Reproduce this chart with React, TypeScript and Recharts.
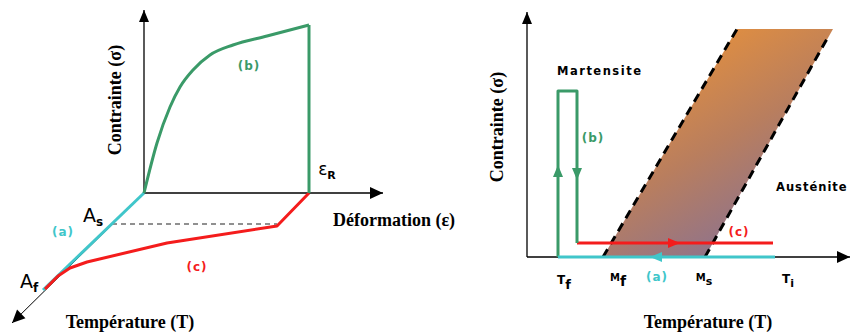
import React from 'react';
import { ComposedChart, Line, Area, Scatter, XAxis, YAxis } from 'recharts';

// Both panels use 1 unit = 4px on each axis so directions in data space equal screen directions.
const UNIT = 4;

// ---- left panel: stress / strain / temperature (oblique view), origin at the axes' corner
const leftStressAxis = [{ x: 0, y: 0 }, { x: 0, y: 45.75 }];
const leftStrainAxis = [{ x: 0, y: 0 }, { x: 59.75, y: 0 }];
const leftTempAxis = [{ x: 0, y: 0 }, { x: -33, y: -32.5 }];

const coolingA = [{ x: 0, y: 0 }, { x: -25.25, y: -24.25 }];
const loadingB = [
  { x: 0, y: 0 },
  { x: 3.25, y: 12.5 },
  { x: 6.5, y: 21.5 },
  { x: 9, y: 26.5 },
  { x: 12.25, y: 30.75 },
  { x: 16.5, y: 34.5 },
  { x: 22.25, y: 37 },
  { x: 30.75, y: 39.25 },
  { x: 41.25, y: 42 },
];
const fractureB = [{ x: 41.25, y: 42 }, { x: 41.25, y: 0 }];
const heatingC = [
  { x: 41.25, y: 0 },
  { x: 33.25, y: -8.25 },
  { x: 5.75, y: -12.5 },
  { x: -14.25, y: -17.25 },
  { x: -18.5, y: -18.75 },
  { x: -21.5, y: -20.75 },
  { x: -24.75, y: -24 },
];
const asLevel = [{ x: -8, y: -7.75 }, { x: 33.25, y: -7.75 }];

// ---- right panel: stress vs temperature
const rightStressAxis = [{ x: 0, y: 0 }, { x: 0, y: 61.25 }];
const rightTempAxis = [{ x: 0, y: 0 }, { x: 80.75, y: 0 }];

const bandLeftEdge = [{ x: 19, y: 0 }, { x: 52.5, y: 57 }];
const bandRightEdge = [{ x: 44.5, y: 0 }, { x: 75.25, y: 55 }];
const bandFill = [
  { x: 19, band: [0, 0] },
  { x: 44.5, band: [0, 43.4] },
  { x: 52.5, band: [14.25, 57] },
  { x: 76.5, band: [57, 57] },
];

const pathA = [{ x: 7.75, y: 0 }, { x: 62, y: 0 }];
const pathB = [
  { x: 7.75, y: 0 },
  { x: 7.75, y: 41.5 },
  { x: 12.5, y: 41.5 },
  { x: 12.5, y: 3.5 },
];
const pathC = [{ x: 12.5, y: 3.5 }, { x: 61.5, y: 3.5 }];

// direction markers along the paths: angle in degrees, counter-clockwise from +x
const arrowsA = [{ x: 30.75, y: 0, angle: 180 }];
const arrowsB = [
  { x: 7.75, y: 23, angle: 90 },
  { x: 12.5, y: 19.25, angle: -90 },
];
const arrowsC = [{ x: 38.25, y: 3.5, angle: 0 }];

const GREEN = '#3a9a68';
const CYAN = '#40c6ca';
const RED = '#f41c1c';

// arrow tip at the end of an axis, pointing away from the previous point
function tipOf(axis: { x: number; y: number }[]) {
  const a = axis[axis.length - 2];
  const b = axis[axis.length - 1];
  return [{ x: b.x, y: b.y, angle: (Math.atan2(b.y - a.y, b.x - a.x) * 180) / Math.PI }];
}

function arrowShape(color: string, len: number, half: number) {
  return (props: any) => {
    const { cx, cy, payload } = props;
    if (cx == null || cy == null) return <g />;
    return (
      <polygon
        points={`0,0 ${-len},${-half} ${-len},${half}`}
        fill={color}
        transform={`translate(${cx},${cy}) rotate(${-payload.angle})`}
      />
    );
  };
}

const serif: React.CSSProperties = {
  fontFamily: '"Liberation Serif", "Times New Roman", serif',
  fontWeight: 700,
  fontSize: 18,
};
const sans: React.CSSProperties = {
  fontFamily: '"DejaVu Sans", Verdana, sans-serif',
  fontWeight: 700,
  fontSize: 12,
};

function Note({
  x,
  y,
  style,
  rotate,
  children,
}: {
  x: number;
  y: number;
  style?: React.CSSProperties;
  rotate?: number;
  children: React.ReactNode;
}) {
  return (
    <div
      style={{
        position: 'absolute',
        left: x,
        top: y,
        transform: `translate(-50%, -50%)${rotate ? ` rotate(${rotate}deg)` : ''}`,
        whiteSpace: 'nowrap',
        lineHeight: 1,
        ...style,
      }}
    >
      {children}
    </div>
  );
}

const Sub = ({ children, size }: { children: React.ReactNode; size?: number }) => (
  <span style={{ fontSize: size ?? '0.75em', position: 'relative', top: '0.35em' }}>{children}</span>
);

function AxisLine({ data, width = 1.3 }: { data: any[]; width?: number }) {
  return (
    <Line
      data={data}
      dataKey="y"
      stroke="#000"
      strokeWidth={width}
      dot={false}
      activeDot={false}
      isAnimationActive={false}
    />
  );
}

function Path({
  data,
  color,
  width = 3,
  dash,
  curve = 'linear',
}: {
  data: any[];
  color: string;
  width?: number;
  dash?: string;
  curve?: 'linear' | 'monotone';
}) {
  return (
    <Line
      data={data}
      dataKey="y"
      type={curve}
      stroke={color}
      strokeWidth={width}
      strokeDasharray={dash}
      strokeLinejoin="round"
      dot={false}
      activeDot={false}
      isAnimationActive={false}
    />
  );
}

function Arrows({ data, color, len = 12, half = 5 }: { data: any[]; color: string; len?: number; half?: number }) {
  return <Scatter data={data} shape={arrowShape(color, len, half)} isAnimationActive={false} />;
}

function LeftPanel() {
  return (
    <ComposedChart width={420} height={334} margin={{ top: 0, right: 0, bottom: 0, left: 0 }}>
      <XAxis type="number" dataKey="x" domain={[-144 / UNIT, 276 / UNIT]} allowDataOverflow hide />
      <YAxis type="number" dataKey="y" domain={[-141 / UNIT, 193 / UNIT]} allowDataOverflow hide />
      {AxisLine({ data: leftStressAxis })}
      {AxisLine({ data: leftStrainAxis })}
      {AxisLine({ data: leftTempAxis, width: 1 })}
      {Path({ data: asLevel, color: '#222', width: 1.2, dash: '5 4' })}
      {Path({ data: coolingA, color: CYAN })}
      {Path({ data: heatingC, color: RED })}
      {Path({ data: loadingB, color: GREEN, curve: 'monotone' })}
      {Path({ data: fractureB, color: GREEN })}
      {Arrows({ data: tipOf(leftStressAxis), color: '#000', len: 12, half: 5 })}
      {Arrows({ data: tipOf(leftStrainAxis), color: '#000', len: 13, half: 6 })}
      {Arrows({ data: tipOf(leftTempAxis), color: '#000', len: 13, half: 6 })}
    </ComposedChart>
  );
}

function RightPanel() {
  return (
    <ComposedChart width={382} height={334} margin={{ top: 0, right: 0, bottom: 0, left: 0 }}>
      <defs>
        <linearGradient id="phase-band" x1="0.2" y1="0" x2="0.8" y2="1">
          <stop offset="0%" stopColor="#ee9436" />
          <stop offset="50%" stopColor="#b97e5e" />
          <stop offset="100%" stopColor="#806f9c" />
        </linearGradient>
      </defs>
      <XAxis type="number" dataKey="x" domain={[-57 / UNIT, 325 / UNIT]} allowDataOverflow hide />
      <YAxis type="number" dataKey="y" domain={[-77 / UNIT, 257 / UNIT]} allowDataOverflow hide />
      <Area
        data={bandFill}
        dataKey="band"
        type="linear"
        stroke="none"
        fill="url(#phase-band)"
        fillOpacity={1}
        activeDot={false}
        isAnimationActive={false}
      />
      {Path({ data: bandLeftEdge, color: '#000', width: 3, dash: '9 6' })}
      {Path({ data: bandRightEdge, color: '#000', width: 3, dash: '9 6' })}
      {AxisLine({ data: rightStressAxis })}
      {AxisLine({ data: rightTempAxis })}
      {Path({ data: pathC, color: RED })}
      {Path({ data: pathB, color: GREEN })}
      {Path({ data: pathA, color: CYAN })}
      {Arrows({ data: arrowsA, color: CYAN, len: 12, half: 5 })}
      {Arrows({ data: arrowsB, color: GREEN, len: 12, half: 5 })}
      {Arrows({ data: arrowsC, color: RED, len: 12, half: 5 })}
      {Arrows({ data: tipOf(rightStressAxis), color: '#000', len: 12, half: 5 })}
      {Arrows({ data: tipOf(rightTempAxis), color: '#000', len: 13, half: 6 })}
    </ComposedChart>
  );
}

export default function App() {
  return (
    <div
      style={{
        position: 'absolute',
        left: 0,
        top: 0,
        width: 852,
        height: 334,
        overflow: 'hidden',
        background: '#fff',
      }}
    >
      <div style={{ position: 'absolute', left: 0, top: 0 }}>
        <LeftPanel />
      </div>
      <div style={{ position: 'absolute', left: 470, top: 0 }}>
        <RightPanel />
      </div>

      {/* left panel text */}
      <Note x={115} y={100} rotate={-90} style={serif}>Contrainte (σ)</Note>
      <Note x={249} y={66} style={{ ...sans, color: GREEN, letterSpacing: 1 }}>(b)</Note>
      <Note x={327} y={169} style={{ ...sans, fontWeight: 400, fontSize: 17 }}>
        ε<Sub size={11}><b>R</b></Sub>
      </Note>
      <Note x={394} y={220} style={serif}>Déformation (ε)</Note>
      <Note x={93} y={215} style={{ ...sans, fontWeight: 400, fontSize: 19 }}>
        A<Sub size={12}><b>s</b></Sub>
      </Note>
      <Note x={63} y={232} style={{ ...sans, color: CYAN, letterSpacing: 1 }}>(a)</Note>
      <Note x={29} y={281} style={{ ...sans, fontWeight: 400, fontSize: 19 }}>
        A<Sub size={12}><b>f</b></Sub>
      </Note>
      <Note x={197} y={267} style={{ ...sans, color: RED, letterSpacing: 1 }}>(c)</Note>
      <Note x={130} y={322} style={serif}>Température (T)</Note>

      {/* right panel text */}
      <Note x={497} y={127} rotate={-90} style={serif}>Contrainte (σ)</Note>
      <div style={{ position: 'absolute', left: 557, top: 66, ...sans, fontSize: 11.5, letterSpacing: 1.5, lineHeight: 1 }}>
        Martensite
      </div>
      <Note x={593} y={138} style={{ ...sans, color: GREEN, letterSpacing: 1 }}>(b)</Note>
      <div style={{ position: 'absolute', left: 776, top: 182, ...sans, fontSize: 11.5, letterSpacing: 1, lineHeight: 1 }}>
        Austénite
      </div>
      <Note x={739} y={232} style={{ ...sans, color: RED, letterSpacing: 1 }}>(c)</Note>
      <Note x={564} y={279} style={sans}>
        T<Sub size={13}>f</Sub>
      </Note>
      <Note x={618} y={276} style={{ ...sans, fontSize: 10 }}>
        M<Sub size={14}>f</Sub>
      </Note>
      <Note x={657} y={277} style={{ ...sans, color: CYAN, letterSpacing: 1 }}>(a)</Note>
      <Note x={704} y={277} style={{ ...sans, fontSize: 10 }}>
        M<Sub size={11}>s</Sub>
      </Note>
      <Note x={788} y={279} style={sans}>
        T<Sub size={11}>i</Sub>
      </Note>
      <Note x={708} y={322} style={serif}>Température (T)</Note>
    </div>
  );
}
